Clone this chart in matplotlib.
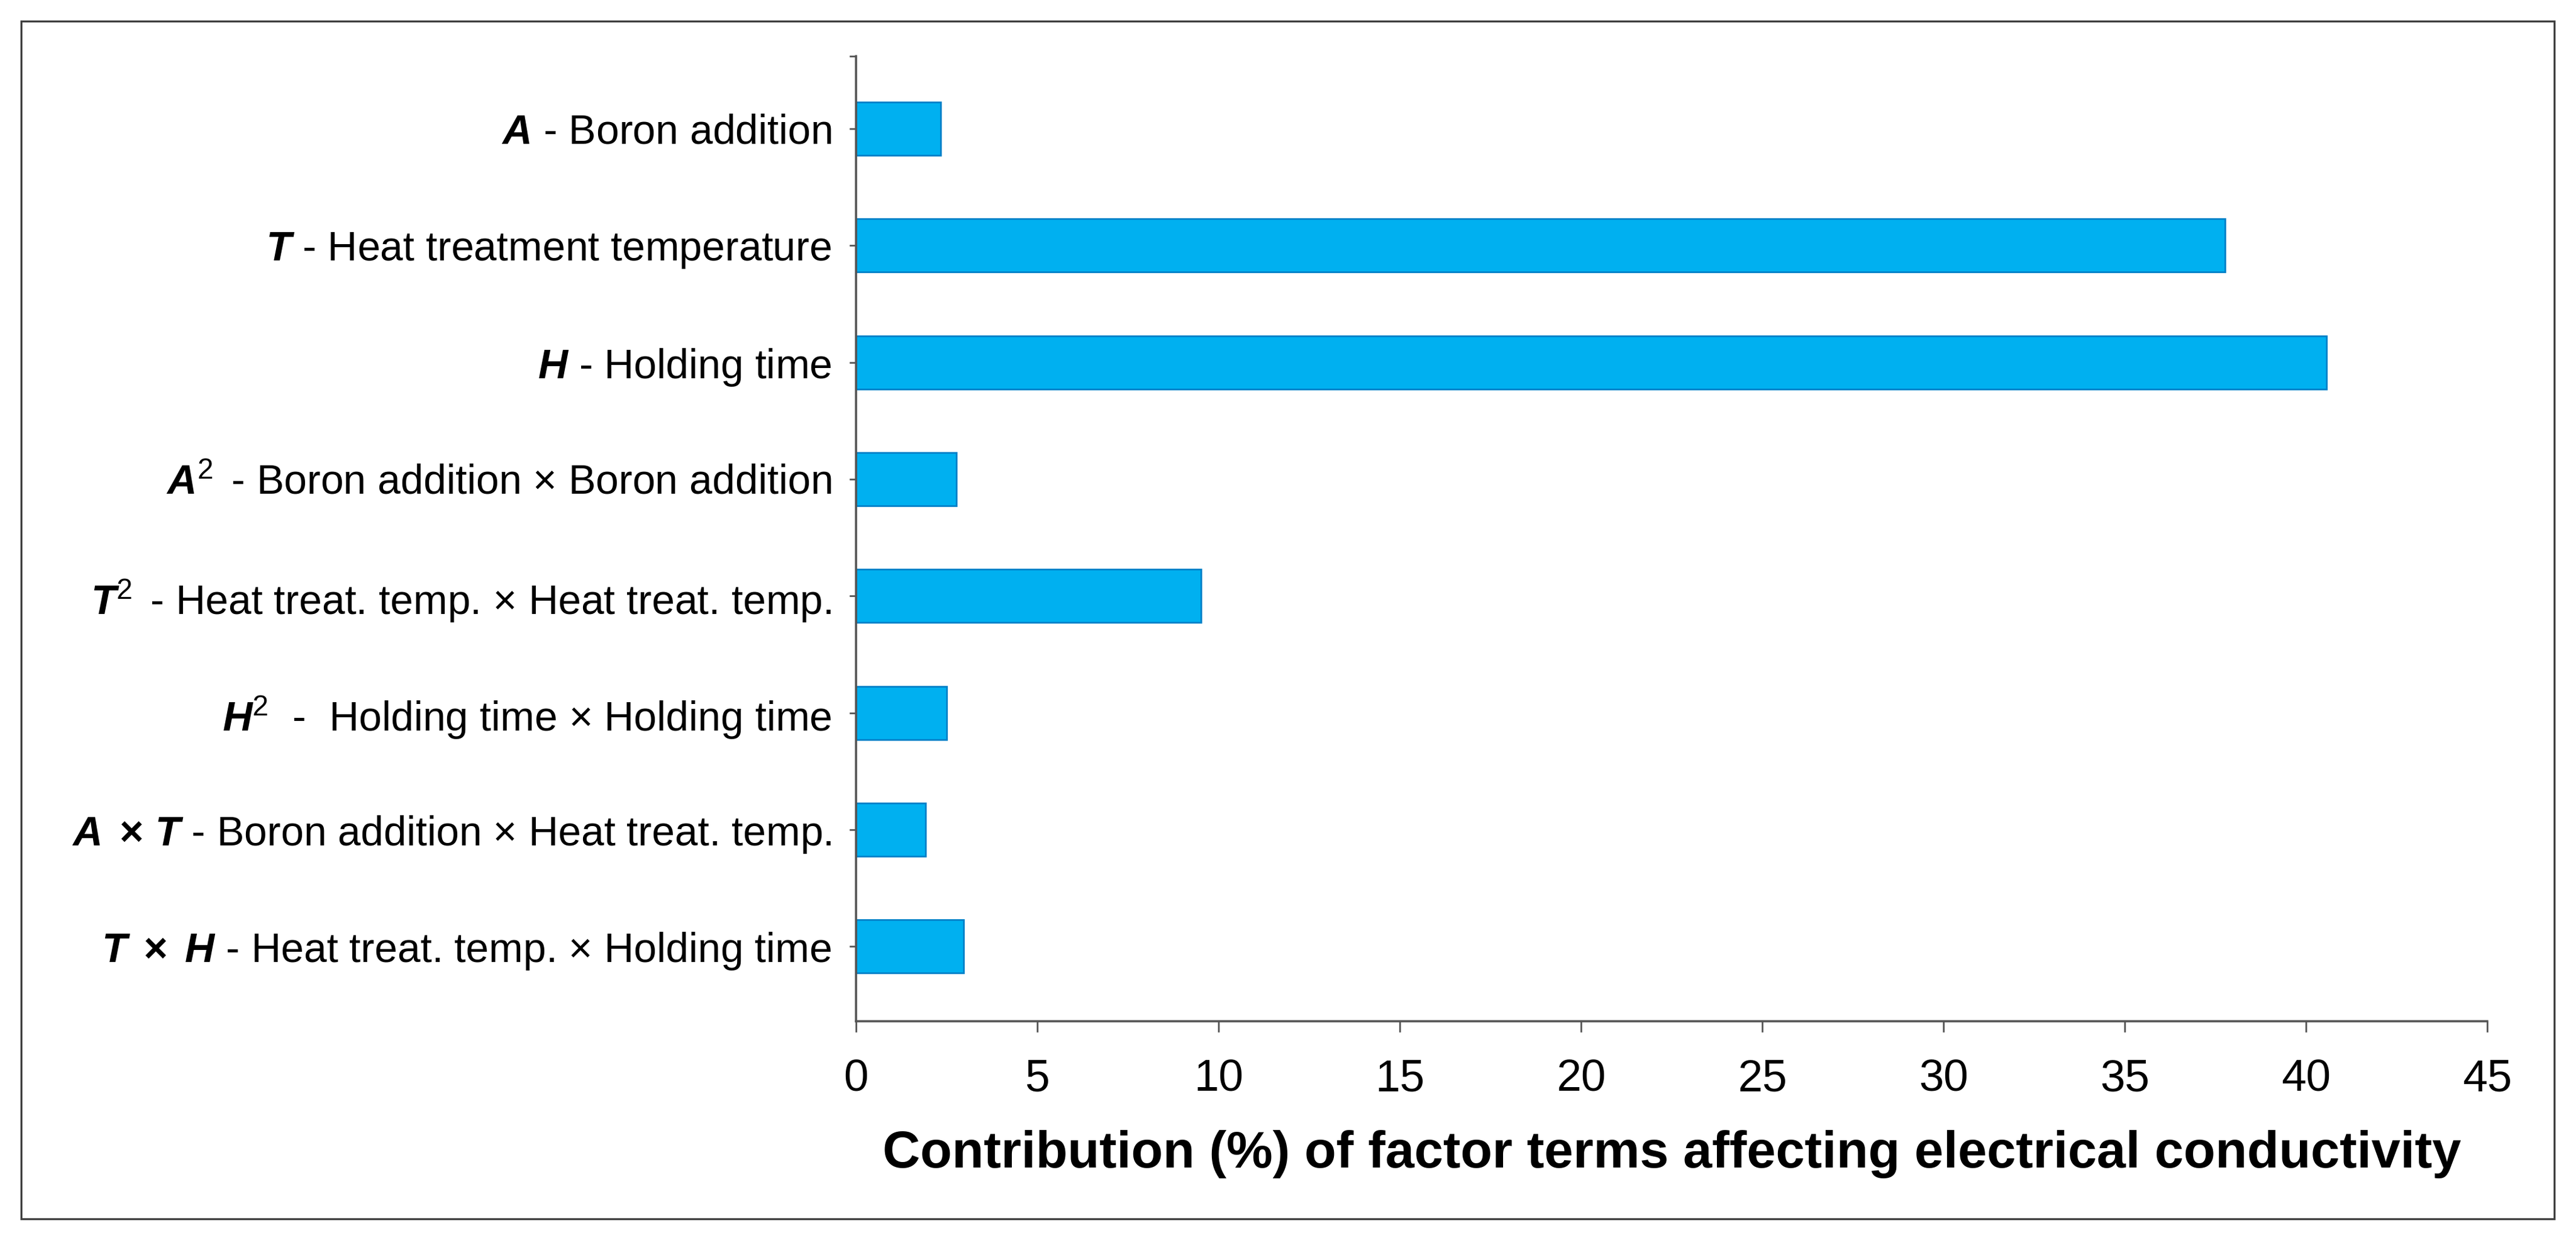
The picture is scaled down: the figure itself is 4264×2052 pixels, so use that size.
import numpy as np
import matplotlib
matplotlib.use("Agg")
import matplotlib.pyplot as plt
from matplotlib.patches import Rectangle

plt.rcParams['font.family'] = ['Liberation Sans', 'DejaVu Sans']
plt.rcParams['mathtext.fontset'] = 'custom'
plt.rcParams['mathtext.rm'] = 'Liberation Sans'
plt.rcParams['mathtext.it'] = 'Liberation Sans:italic'
plt.rcParams['mathtext.bf'] = 'Liberation Sans:bold'
plt.rcParams['mathtext.bfit'] = 'Liberation Sans:italic:bold'

# factor terms, top to bottom
labels = [
    r"$\mathbfit{A}$ - Boron addition",
    r"$\mathbfit{T}$ - Heat treatment temperature",
    r"$\mathbfit{H}$ - Holding time",
    r"$\mathbfit{A}^{\mathrm{2}}\,$ - Boron addition × Boron addition",
    r"$\mathbfit{T}^{\mathrm{2}}\,$ - Heat treat. temp. × Heat treat. temp.",
    r"$\mathbfit{H}^{\mathrm{2}}\,\,$ -  Holding time × Holding time",
    r"$\mathbfit{A}\,$ $\mathbf{×}$ $\mathbfit{T}$ - Boron addition × Heat treat. temp.",
    r"$\mathbfit{T}\,$ $\mathbf{×}$ $\,\mathbfit{H}$ - Heat treat. temp. × Holding time",
]
contribution = [2.33, 37.76, 40.57, 2.77, 9.51, 2.50, 1.92, 2.96]
xticks = [0, 5, 10, 15, 20, 25, 30, 35, 40, 45]

W, H, dpi = 4264, 2052, 200
fig = plt.figure(figsize=(W / dpi, H / dpi), dpi=dpi)
ax = fig.add_axes([1417 / W, 1 - 1690 / H, 2700 / W, 1597 / H])

y = np.arange(len(labels))
ax.barh(y, contribution, height=0.455, color="#00B0F0", edgecolor="#0080C8", linewidth=1.0)

ax.set_xlim(0, 45)
ax.set_ylim(7.64, -0.62)
ax.set_xticks(xticks)
ax.set_yticks(y)
ax.set_yticklabels(labels)
ax.set_yticks([-0.62], minor=True)

for s in ["top", "right"]:
    ax.spines[s].set_visible(False)
for s in ["left", "bottom"]:
    ax.spines[s].set_color("#555555")
    ax.spines[s].set_linewidth(1.3)

ax.tick_params(axis="x", length=6.5, width=1.0, color="#555555", pad=15.5, labelsize=26.5)
ax.tick_params(axis="y", which="both", length=4, width=1.0, color="#555555", pad=10.5, labelsize=24.5)

ax.set_xlabel("Contribution (%) of factor terms affecting electrical conductivity",
              fontsize=31, fontweight="bold", labelpad=18)

# outer frame around the chart
fig.patches.append(Rectangle((35 / W, 1 - 2017 / H), (4228 - 35) / W, (2017 - 35) / H,
                             transform=fig.transFigure, fill=False,
                             edgecolor="#404040", linewidth=1.2))

fig.savefig("out.png", dpi=dpi)
